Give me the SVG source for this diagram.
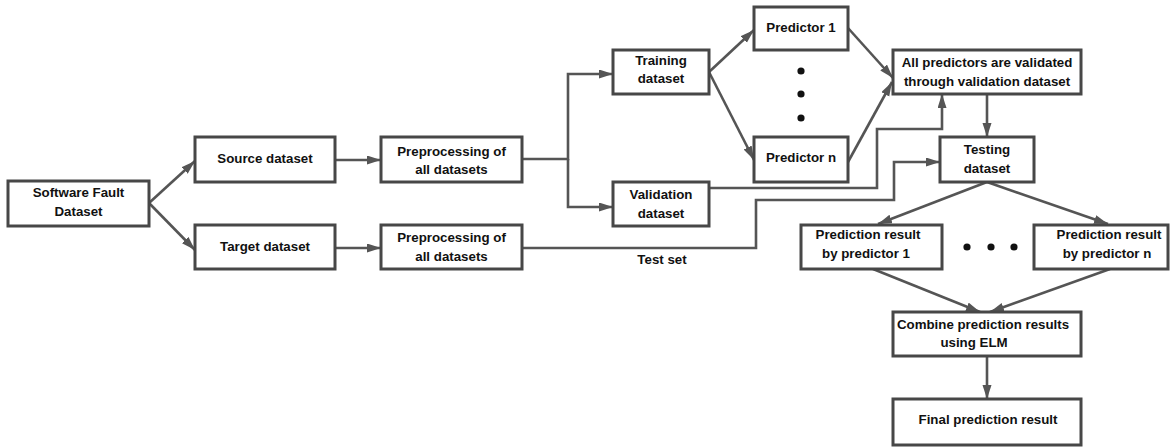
<svg xmlns="http://www.w3.org/2000/svg" width="1171" height="448" viewBox="0 0 1171 448">
<style>
.box{fill:#fff;stroke:#474747;stroke-width:3}
.t{font-family:"Liberation Sans",Arial,sans-serif;font-weight:bold;font-size:13.3px;fill:#111;text-anchor:middle}
.c{fill:none;stroke:#555;stroke-width:2.6;marker-end:url(#ah)}
.n{fill:none;stroke:#555;stroke-width:2.6}
.dot{fill:#111}
</style>
<defs>
<marker id="ah" markerUnits="userSpaceOnUse" markerWidth="15" markerHeight="10" refX="14" refY="4.5" orient="auto">
<path d="M0,0 L14,4.5 L0,9 z" fill="#555"/>
</marker>
</defs>
<rect width="1171" height="448" fill="#fff"/>
<g id="connectors">
<path class="c" d="M149,203 L195,161"/>
<path class="c" d="M149,203 L195,250"/>
<path class="c" d="M335,160 L381,160"/>
<path class="c" d="M335,248 L381,248"/>
<path class="c" d="M522,159 L568,159 L568,74 L613,74"/>
<path class="c" d="M568,159 L568,207 L613,207"/>
<path class="c" d="M709,72 L754,30"/>
<path class="c" d="M709,72 L754,160"/>
<path class="c" d="M848,28 L893,78"/>
<path class="c" d="M848,162 L892,82"/>
<path class="c" d="M709,188 L877,188 L877,129 L942,129 L942,94"/>
<path class="c" d="M522,248 L756,248 L756,200 L894,200 L894,162 L940,162"/>
<path class="c" d="M987,94 L987,137"/>
<path class="c" d="M987,182 L878,224"/>
<path class="c" d="M987,182 L1108,224"/>
<path class="c" d="M873,269 L980,312"/>
<path class="c" d="M1110,269 L990,312"/>
<path class="c" d="M987,356 L987,399"/>
</g>
<g id="software-fault-dataset"><rect class="box" x="8" y="181" width="141" height="45"/><text class="t" x="78.5" y="197">Software Fault</text><text class="t" x="78.5" y="216">Dataset</text></g>
<g id="source-dataset"><rect class="box" x="195" y="137" width="140" height="45"/><text class="t" x="265" y="163">Source dataset</text></g>
<g id="target-dataset"><rect class="box" x="195" y="225" width="140" height="44"/><text class="t" x="265" y="251">Target dataset</text></g>
<g id="preprocessing-1"><rect class="box" x="381" y="137" width="141" height="45"/><text class="t" x="451.5" y="156">Preprocessing of</text><text class="t" x="451.5" y="174">all datasets</text></g>
<g id="preprocessing-2"><rect class="box" x="381" y="225" width="141" height="44"/><text class="t" x="451.5" y="242">Preprocessing of</text><text class="t" x="451.5" y="261">all datasets</text></g>
<g id="test-set-label"><text class="t" x="662" y="264">Test set</text></g>
<g id="training-dataset"><rect class="box" x="613" y="50" width="96" height="44"/><text class="t" x="661" y="65">Training</text><text class="t" x="661" y="83">dataset</text></g>
<g id="validation-dataset"><rect class="box" x="613" y="182" width="96" height="44"/><text class="t" x="661" y="199">Validation</text><text class="t" x="661" y="218">dataset</text></g>
<g id="predictor-1"><rect class="box" x="754" y="7" width="94" height="43"/><text class="t" x="801" y="32">Predictor 1</text></g>
<g id="predictor-dots"><circle class="dot" cx="801" cy="71" r="3.6"/><circle class="dot" cx="801" cy="94" r="3.6"/><circle class="dot" cx="801" cy="118" r="3.6"/></g>
<g id="predictor-n"><rect class="box" x="754" y="137" width="94" height="45"/><text class="t" x="801" y="162">Predictor n</text></g>
<g id="all-predictors-validated"><rect class="box" x="893" y="50" width="188" height="44"/><text class="t" x="987" y="67">All predictors are validated</text><text class="t" x="987" y="86">through validation dataset</text></g>
<g id="testing-dataset"><rect class="box" x="940" y="137" width="94" height="45"/><text class="t" x="987" y="154">Testing</text><text class="t" x="987" y="173">dataset</text></g>
<g id="prediction-result-1"><rect class="box" x="801" y="225" width="141" height="44"/><text class="t" x="868" y="239">Prediction result</text><text class="t" x="866" y="258">by predictor 1</text></g>
<g id="result-dots"><circle class="dot" cx="967" cy="247" r="3.6"/><circle class="dot" cx="991" cy="247" r="3.6"/><circle class="dot" cx="1014" cy="247" r="3.6"/></g>
<g id="prediction-result-n"><rect class="box" x="1034" y="225" width="134" height="44"/><text class="t" x="1109" y="239">Prediction result</text><text class="t" x="1107" y="258">by predictor n</text></g>
<g id="combine-elm"><rect class="box" x="893" y="312" width="188" height="44"/><text class="t" x="983" y="329">Combine prediction results</text><text class="t" x="974" y="347">using ELM</text></g>
<g id="final-result"><rect class="box" x="893" y="399" width="188" height="46"/><text class="t" x="988" y="424">Final prediction result</text></g>
</svg>
